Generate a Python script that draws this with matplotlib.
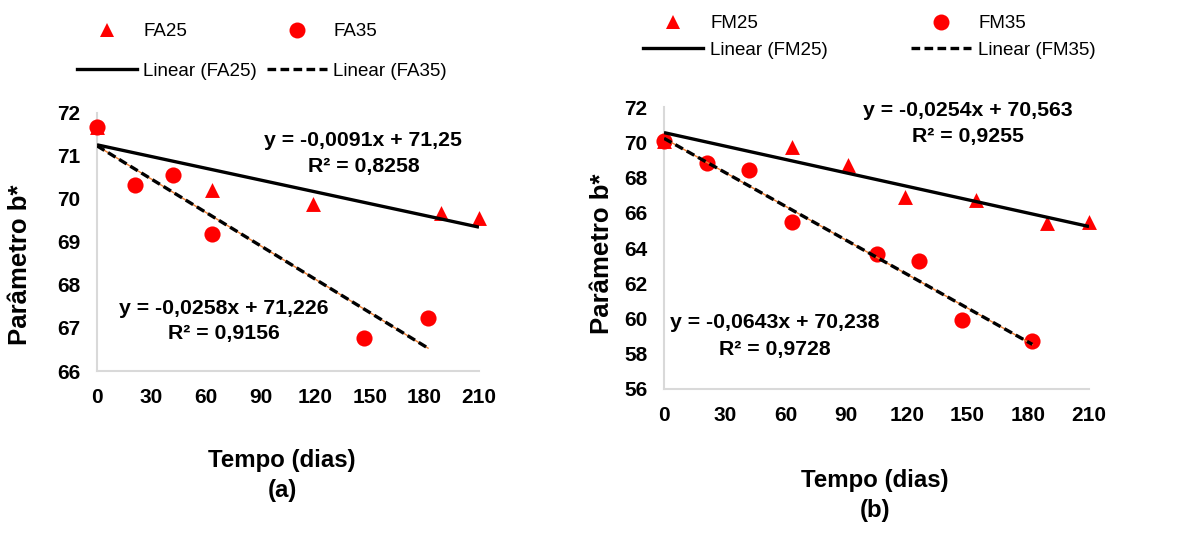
import matplotlib
matplotlib.use("Agg")
import matplotlib.pyplot as plt
import numpy as np
from matplotlib.lines import Line2D

plt.rcParams['font.family'] = ['Liberation Sans', 'DejaVu Sans']

# ---- data ----
fa25_days = [0, 63, 119, 189, 210]
fa25_b = [71.67, 70.20, 69.88, 69.67, 69.55]
fa35_days = [0, 21, 42, 63, 147, 182]
fa35_b = [71.67, 70.31, 70.54, 69.18, 66.77, 67.24]
fa25_fit = (-0.0091, 71.25)
fa35_fit = (-0.0258, 71.226)

fm25_days = [0, 63, 91, 119, 154, 189, 210]
fm25_b = [70.06, 69.77, 68.74, 66.91, 66.72, 65.43, 65.47]
fm35_days = [0, 21, 42, 63, 105, 126, 147, 182]
fm35_b = [70.06, 68.83, 68.42, 65.47, 63.68, 63.26, 59.91, 58.74]
fm25_fit = (-0.0254, 70.563)
fm35_fit = (-0.0643, 70.238)

eq_a = ["y = -0,0091x + 71,25", "R² = 0,8258", "y = -0,0258x + 71,226", "R² = 0,9156"]
eq_b = ["y = -0,0254x + 70,563", "R² = 0,9255", "y = -0,0643x + 70,238", "R² = 0,9728"]
xticks = [0, 30, 60, 90, 120, 150, 180, 210]

W, H = 1178, 544
fig = plt.figure(figsize=(W / 100, H / 100), dpi=100)

def fx(x):
    return x / W

def fy(y):
    return 1 - y / H

RED = '#FF0000'
ORANGE = '#ED7D31'
GRAY = '#D9D9D9'
DASH = (0, (2.6, 1.3))

def panel(rect, d25, v25, d35, v35, f25, f35, ylim, yticks):
    ax = fig.add_axes(rect)
    ax.scatter(d25, v25, marker='^', s=115, color=RED, zorder=3, linewidths=0, clip_on=False)
    ax.scatter(d35, v35, marker='o', s=135, color=RED, zorder=3, linewidths=0, clip_on=False)
    x1 = np.array([0, max(d25)])
    ax.plot(x1, f25[0] * x1 + f25[1], color='black', lw=2.4, zorder=4, solid_capstyle='butt')
    x2 = np.array([0, max(d35)])
    ax.plot(x2, f35[0] * x2 + f35[1], color=ORANGE, lw=1.0, zorder=4)
    ax.plot(x2, f35[0] * x2 + f35[1], color='black', lw=2.4, ls=DASH, zorder=5)
    ax.set_xlim(0, 210)
    ax.set_ylim(*ylim)
    ax.set_xticks(xticks)
    ax.set_yticks(yticks)
    for s in ['top', 'right']:
        ax.spines[s].set_visible(False)
    for s in ['left', 'bottom']:
        ax.spines[s].set_color(GRAY)
        ax.spines[s].set_linewidth(1.5)
    ax.tick_params(length=0, labelsize=15, pad=12)
    for lab in ax.get_xticklabels() + ax.get_yticklabels():
        lab.set_fontweight('bold')
    ax.patch.set_alpha(0)
    return ax

ax1 = panel([fx(97), fy(371), fx(479) - fx(97), fy(112.5) - fy(371)],
            fa25_days, fa25_b, fa35_days, fa35_b, fa25_fit, fa35_fit,
            (66, 72), np.arange(66, 73, 1))
ax2 = panel([fx(664), fy(389), fx(1089) - fx(664), fy(107.3) - fy(389)],
            fm25_days, fm25_b, fm35_days, fm35_b, fm25_fit, fm35_fit,
            (56, 72), np.arange(56, 73, 2))

eqkw = dict(ha='center', va='center', fontsize=15.3, fontweight='bold')
fig.text(fx(363), fy(140), eq_a[0], **eqkw)
fig.text(fx(364), fy(166.5), eq_a[1], **eqkw)
fig.text(fx(224), fy(308), eq_a[2], **eqkw)
fig.text(fx(224), fy(334), eq_a[3], **eqkw)
fig.text(fx(968), fy(110), eq_b[0], **eqkw)
fig.text(fx(968), fy(136.5), eq_b[1], **eqkw)
fig.text(fx(775), fy(323), eq_b[2], **eqkw)
fig.text(fx(775), fy(349), eq_b[3], **eqkw)

tkw = dict(ha='center', va='center', fontsize=17.3, fontweight='bold')
fig.text(fx(282), fy(460), "Tempo (dias)", **tkw)
fig.text(fx(282), fy(490), "(a)", **tkw)
fig.text(fx(875), fy(481), "Tempo (dias)", **tkw)
fig.text(fx(875), fy(511), "(b)", **tkw)
ykw = dict(tkw, fontsize=18.5)
fig.text(fx(20), fy(265), "Parâmetro b*", rotation=90, **ykw)
fig.text(fx(602), fy(254), "Parâmetro b*", rotation=90, **ykw)

def handles(n25, n35):
    h = [Line2D([], [], ls='none', marker='^', ms=10.5, color=RED, mew=0),
         Line2D([], [], color='black', lw=2.4),
         Line2D([], [], ls='none', marker='o', ms=11.5, color=RED, mew=0),
         Line2D([], [], color='black', lw=2.4, ls=DASH)]
    l = [n25, f"Linear ({n25})", n35, f"Linear ({n35})"]
    return h, l

h, l = handles("FA25", "FA35")
fig.legend(h, l, ncol=2, loc='upper left', bbox_to_anchor=(fx(77), fy(23)),
           frameon=False, fontsize=13.5, borderpad=0, borderaxespad=0,
           handlelength=3.2, handletextpad=0.33, columnspacing=0.55,
           labelspacing=1.2)
h, l = handles("FM25", "FM35")
fig.legend(h, l, ncol=2, loc='upper left', bbox_to_anchor=(fx(643), fy(15)),
           frameon=False, fontsize=13.5, borderpad=0, borderaxespad=0,
           handlelength=3.2, handletextpad=0.4, columnspacing=4.4,
           labelspacing=0.5)

fig.savefig("out.png", dpi=100)
